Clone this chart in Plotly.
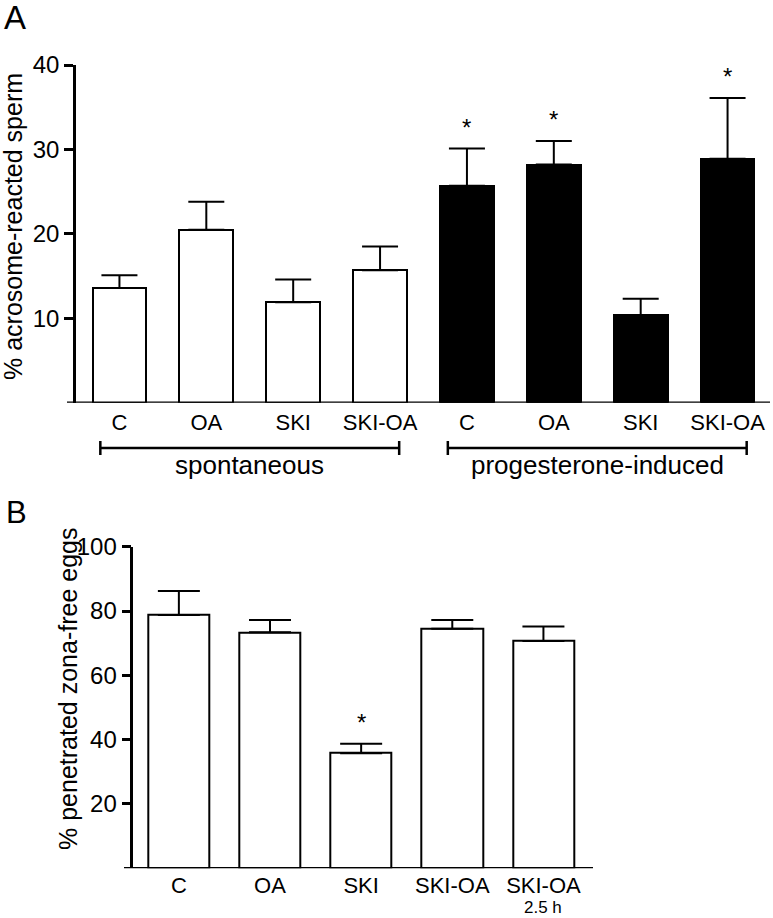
import plotly.graph_objects as go

# ---------------- data ----------------
cats_a = ["C", "OA", "SKI", "SKI-OA"]
groups_a = ["spontaneous", "progesterone-induced"]
spont_mean = [13.6, 20.5, 11.9, 15.7]
spont_sem = [1.5, 3.3, 2.7, 2.8]
prog_mean = [25.7, 28.2, 10.4, 28.9]
prog_sem = [4.4, 2.8, 1.9, 7.2]
spont_sig = [False, False, False, False]
prog_sig = [True, True, False, True]
yticks_a = [10, 20, 30, 40]

cats_b = ["C", "OA", "SKI", "SKI-OA", "SKI-OA"]
cats_b_sub = ["", "", "", "", "2.5 h"]
b_mean = [78.8, 73.4, 35.8, 74.5, 70.7]
b_sem = [7.4, 3.8, 2.9, 2.7, 4.5]
b_sig = [False, False, True, False, False]
yticks_b = [20, 40, 60, 80, 100]

W, H = 773, 918
FONT = "Arial, 'Liberation Sans', Helvetica, sans-serif"

def px_x(p):
    return p / W

def px_y(p):
    return 1 - p / H

xa_s = list(range(len(cats_a)))
xa_p = [len(cats_a) + i for i in range(len(cats_a))]
xb = list(range(len(cats_b)))

fig = go.Figure()

def eb(arr, w):
    return dict(type="data", array=arr, arrayminus=[0] * len(arr), symmetric=False,
                color="black", thickness=2, width=w, visible=True)

fig.add_trace(go.Bar(x=xa_s, y=spont_mean, width=0.62,
                     marker=dict(color="white", line=dict(color="black", width=2)),
                     error_y=eb(spont_sem, 18), xaxis="x", yaxis="y", showlegend=False))
fig.add_trace(go.Bar(x=xa_p, y=prog_mean, width=0.62,
                     marker=dict(color="black", line=dict(color="black", width=2)),
                     error_y=eb(prog_sem, 18), xaxis="x", yaxis="y", showlegend=False))
fig.add_trace(go.Bar(x=xb, y=b_mean, width=0.67,
                     marker=dict(color="white", line=dict(color="black", width=2)),
                     error_y=eb(b_sem, 21), xaxis="x2", yaxis="y2", showlegend=False))

ann = []
shapes = []

# stars
for xs, means, sems, sig, xr, yr in [(xa_s, spont_mean, spont_sem, spont_sig, "x", "y"),
                                      (xa_p, prog_mean, prog_sem, prog_sig, "x", "y"),
                                      (xb, b_mean, b_sem, b_sig, "x2", "y2")]:
    for x, m, s, g in zip(xs, means, sems, sig):
        if g:
            ann.append(dict(x=x, y=m + s, xref=xr, yref=yr, text="*", showarrow=False,
                            yanchor="bottom", yshift=6, font=dict(size=24, color="black", family=FONT)))

# panel letters
ann.append(dict(x=px_x(2), y=px_y(-3), xref="paper", yref="paper", text="A", showarrow=False,
                xanchor="left", yanchor="top", font=dict(size=33, color="black", family=FONT)))
ann.append(dict(x=px_x(4), y=px_y(493), xref="paper", yref="paper", text="B", showarrow=False,
                xanchor="left", yanchor="top", font=dict(size=31, color="black", family=FONT)))

# y titles
ann.append(dict(x=px_x(13), y=px_y(227), xref="paper", yref="paper", text="% acrosome-reacted sperm",
                textangle=-90, showarrow=False, xanchor="center", yanchor="middle",
                font=dict(size=25, color="black", family=FONT)))
ann.append(dict(x=px_x(68), y=px_y(689), xref="paper", yref="paper", text="% penetrated zona-free eggs",
                textangle=-90, showarrow=False, xanchor="center", yanchor="middle",
                font=dict(size=25, color="black", family=FONT)))

# group brackets for panel A
for gname, idx in zip(groups_a, [xa_s, xa_p]):
    x0, x1 = min(idx) - 0.22, max(idx) + 0.22
    yb = px_y(448)
    shapes.append(dict(type="line", xref="x", yref="paper", x0=x0, x1=x1, y0=yb, y1=yb,
                       line=dict(color="black", width=2.5)))
    for xe in (x0, x1):
        shapes.append(dict(type="line", xref="x", yref="paper", x0=xe, x1=xe,
                           y0=px_y(441), y1=px_y(455), line=dict(color="black", width=2.5)))
    ann.append(dict(x=(min(idx) + max(idx)) / 2, y=px_y(465), xref="x", yref="paper", text=gname,
                    showarrow=False, yanchor="middle", font=dict(size=26, color="black", family=FONT)))

# sub labels panel B
for x, t in zip(xb, cats_b_sub):
    if t:
        ann.append(dict(x=x, y=0, xref="x2", yref="paper", text=t, showarrow=False,
                        yanchor="bottom", borderpad=0, font=dict(size=17, color="black", family=FONT)))

# x axis lines (extend slightly left of y axis)
shapes.append(dict(type="line", xref="paper", yref="y", x0=px_x(67), x1=px_x(770), y0=0, y1=0,
                   line=dict(color="black", width=2.5)))
shapes.append(dict(type="line", xref="paper", yref="y2", x0=px_x(124), x1=px_x(593), y0=0, y1=0,
                   line=dict(color="black", width=2.5)))

xcommon = dict(showline=False, showgrid=False, zeroline=False, ticks="", automargin=False,
               tickfont=dict(size=22, color="black", family=FONT))
ycommon = dict(showline=True, linecolor="black", linewidth=2.5, showgrid=False, zeroline=False,
               ticks="outside", ticklen=9, tickwidth=2.5, tickcolor="black", automargin=False,
               tickfont=dict(size=24, color="black", family=FONT))

fig.update_layout(
    template="none",
    width=W, height=H, margin=dict(l=0, r=0, t=0, b=0, pad=0, autoexpand=False),
    paper_bgcolor="white", plot_bgcolor="white",
    font=dict(family=FONT, color="black"),
    barmode="overlay", bargap=0, showlegend=False,
    xaxis=dict(domain=[px_x(76), px_x(771)], anchor="y", range=[-0.5, 7.5],
               tickvals=xa_s + xa_p, ticktext=cats_a + cats_a, ticklabelstandoff=4, **xcommon),
    yaxis=dict(domain=[px_y(402.7), px_y(65)], anchor="x", range=[0, 40],
               tickvals=yticks_a, **ycommon),
    xaxis2=dict(domain=[px_x(133.3), px_x(589)], anchor="y2", range=[-0.5, 4.5],
                tickvals=xb, ticktext=cats_b, ticklabelstandoff=2, **xcommon),
    yaxis2=dict(domain=[px_y(868.3), px_y(546.7)], anchor="x2", range=[0, 100],
                tickvals=yticks_b, **ycommon),
    annotations=ann, shapes=shapes,
)

fig.write_html("out.html", config={"displayModeBar": False},
               post_script="document.body.style.margin='0';document.body.style.overflow='hidden';")
